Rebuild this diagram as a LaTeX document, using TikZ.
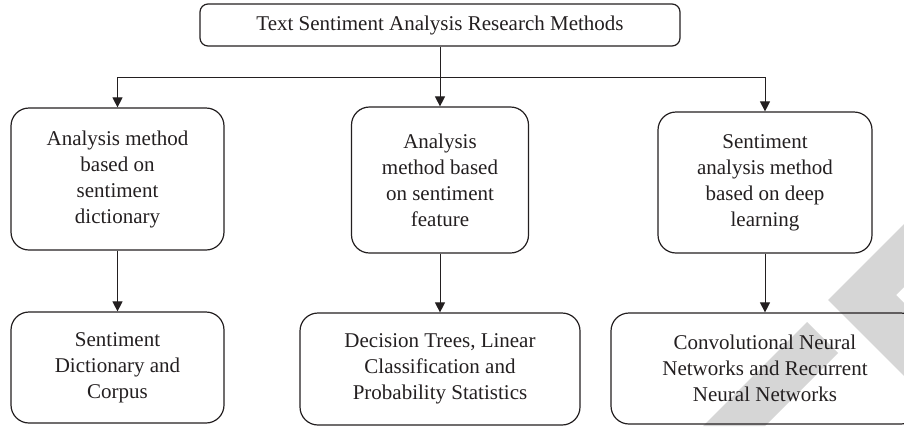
\documentclass[tikz,border=0pt]{standalone}
\usepackage{fontspec}
\setmainfont{Liberation Serif}
\usetikzlibrary{arrows.meta}
\definecolor{ink}{RGB}{35,31,32}
\definecolor{wm}{RGB}{214,214,214}
\begin{document}
\begin{tikzpicture}[x=1pt,y=-1pt,
  mbox/.style={draw=ink, line width=1.2pt, rounded corners=18pt, align=center, text=ink,
    font=\fontsize{21}{26}\selectfont, inner sep=0pt},
  conn/.style={draw=ink, line width=1pt, -{Triangle[length=10pt,width=10pt]}},
  plain/.style={draw=ink, line width=1pt}]
\useasboundingbox (0,0) rectangle (904,426);
\clip (0,0) rectangle (904,426);
% watermark
\fill[wm] (828,300) -- (904,224) -- (904,287) -- (896,295) -- (904,303) -- (904,376) -- cycle;
\fill[wm] (807,322) -- (838,353) -- (765,426) -- (703,426) -- cycle;
% nodes
\node[mbox, minimum width=480pt, minimum height=42pt, rounded corners=8pt] (top) at (440,25) {\raisebox{-2pt}{Text Sentiment Analysis Research Methods}};
\node[mbox, minimum width=213pt, minimum height=142pt] (a1) at (117.5,179) {Analysis method\\based on\\sentiment\\dictionary};
\node[mbox, minimum width=177pt, minimum height=146pt] (a2) at (440,180) {Analysis\\method based\\on sentiment\\feature};
\node[mbox, minimum width=214pt, minimum height=141pt] (a3) at (765,182.5) {Sentiment\\analysis method\\based on deep\\learning};
\node[mbox, minimum width=213pt, minimum height=111pt] (b1) at (117.5,367.5) {Sentiment\\Dictionary and\\Corpus};
\node[mbox, minimum width=280pt, minimum height=112pt] (b2) at (440,369) {Decision Trees, Linear\\Classification and\\Probability Statistics};
\node[mbox, minimum width=308pt, minimum height=111pt] (b3) at (765,368.5) {Convolutional Neural\\Networks and Recurrent\\Neural Networks};
% connectors
\coordinate (jl) at (117.5,77);
\coordinate (jr) at (765,77);
\draw[plain] (jl) -- (jr);
\draw[conn] (top) -- (a2);
\draw[conn] (jl) -- (a1);
\draw[conn] (jr) -- (a3);
\draw[conn] (a1) -- (b1);
\draw[conn] (a2) -- (b2);
\draw[conn] (a3) -- (b3);
\end{tikzpicture}
\end{document}
